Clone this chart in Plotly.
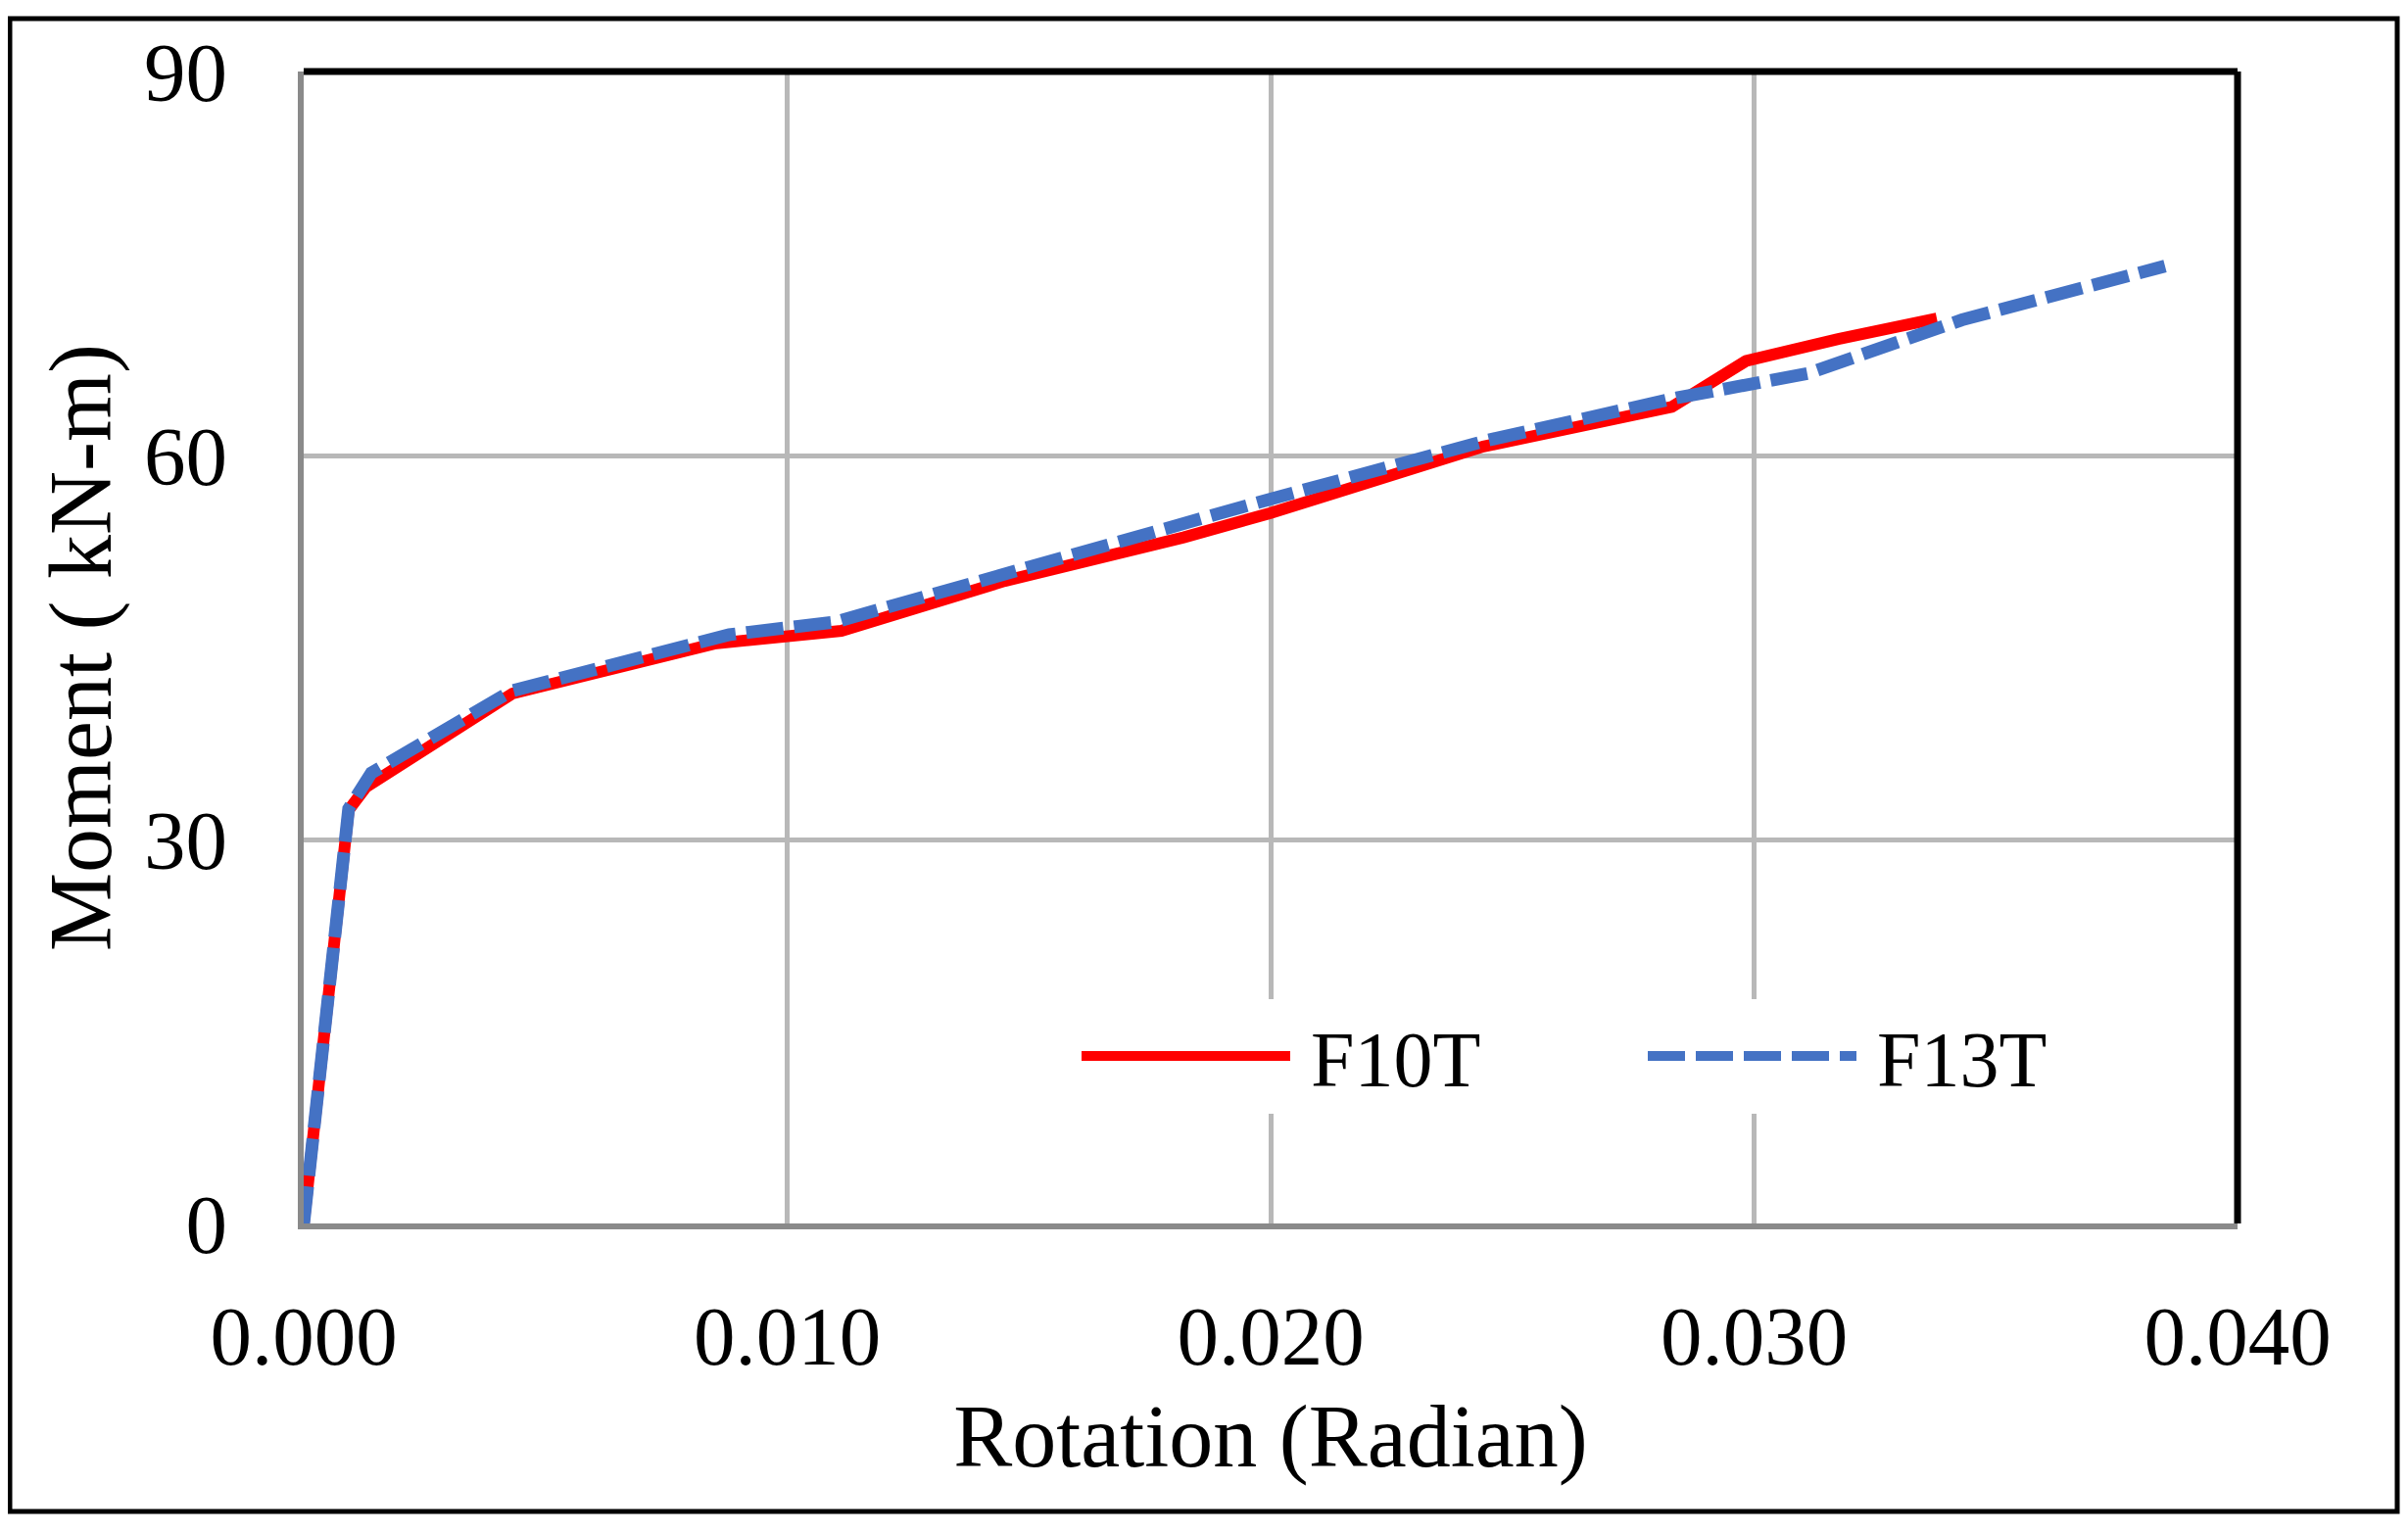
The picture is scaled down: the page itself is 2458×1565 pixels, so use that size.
import plotly.graph_objects as go

# ---- data ----
f10t_rotation = [0.0, 0.00093, 0.00129, 0.00432, 0.00849, 0.01112, 0.0145, 0.0182,
                 0.0200, 0.0244, 0.0283, 0.02984, 0.03174, 0.03378]
f10t_moment = [0.0, 32.3, 34.1, 41.4, 45.3, 46.3, 50.2, 53.6,
               55.5, 60.7, 63.8, 67.4, 69.1, 70.7]

f13t_rotation = [0.0, 0.00093, 0.0014, 0.0043, 0.0088, 0.0110, 0.0200, 0.0245,
                 0.0284, 0.0311, 0.0343, 0.0385]
f13t_moment = [0.0, 32.4, 35.2, 41.6, 46.0, 47.0, 56.6, 61.2,
               64.5, 66.4, 70.6, 74.8]

x_ticks = [0.0, 0.01, 0.02, 0.03, 0.04]
x_tick_labels = ["0.000", "0.010", "0.020", "0.030", "0.040"]
y_ticks = [0, 30, 60, 90]
y_tick_labels = ["0", "30", "60", "90"]

# ---- layout constants (pixels, figure coordinates; page body has an 8px margin) ----
W, H = 2442, 1549
L, R, T, B = 302, 2276, 65, 1241
pw, ph = R - L, B - T

def px_to_paper_x(p):
    return (p - L) / pw

def px_to_paper_y(p):
    return (B - p) / ph

FONT = "Liberation Serif"

fig = go.Figure()
fig.add_trace(go.Scatter(
    x=f10t_rotation, y=f10t_moment, mode="lines", name="\u2009F10T",
    line=dict(color="#FF0000", width=12),
))
fig.add_trace(go.Scatter(
    x=f13t_rotation, y=f13t_moment, mode="lines", name="\u2009F13T",
    line=dict(color="#4472C4", width=13, dash="38px,11px"),
))

fig.update_layout(
    width=W, height=H,
    margin=dict(l=L, r=W - R, t=T, b=H - B, pad=0),
    paper_bgcolor="white", plot_bgcolor="white",
    font=dict(family=FONT, color="black", size=86),
    showlegend=True,
    legend=dict(
        orientation="h", x=px_to_paper_x(1091), y=px_to_paper_y(1070),
        xanchor="left", yanchor="middle",
        bgcolor="white", borderwidth=0,
        font=dict(family=FONT, size=80, color="black"),
        itemwidth=213, entrywidth=350, entrywidthmode="pixels",
    ),
)

fig.update_xaxes(
    range=[0, 0.04], tickvals=x_ticks, ticktext=x_tick_labels,
    showgrid=True, gridcolor="#B8B8B8", gridwidth=5,
    zeroline=False, showline=True, linecolor="#8A8A8A", linewidth=6,
    ticks="", ticklabelstandoff=36, layer="below traces",
    tickfont=dict(family=FONT, size=85, color="black"),
    title=dict(text="Rotation (Radian)", font=dict(family=FONT, size=90, color="black"), standoff=26),
)
fig.update_yaxes(
    range=[0, 90], tickvals=y_ticks, ticktext=y_tick_labels,
    showgrid=True, gridcolor="#B8B8B8", gridwidth=5,
    zeroline=False, showline=True, linecolor="#8A8A8A", linewidth=6,
    ticks="", ticklabelstandoff=55, layer="below traces",
    tickfont=dict(family=FONT, size=85, color="black"),
    title=dict(text="Moment ( kN-m)", font=dict(family=FONT, size=90, color="black"), standoff=6),
)

# top & right black borders of plot area
fig.add_shape(type="line", xref="paper", yref="paper", x0=0, x1=1, y0=1, y1=1,
              line=dict(color="black", width=7))
fig.add_shape(type="line", xref="paper", yref="paper", x0=1, x1=1, y0=0, y1=1,
              line=dict(color="black", width=7))
# outer frame
fig.add_shape(type="rect", xref="paper", yref="paper",
              x0=px_to_paper_x(2), x1=px_to_paper_x(2439),
              y0=px_to_paper_y(1535), y1=px_to_paper_y(11),
              line=dict(color="black", width=5), fillcolor="rgba(0,0,0,0)")

fig.write_html("out.html")
